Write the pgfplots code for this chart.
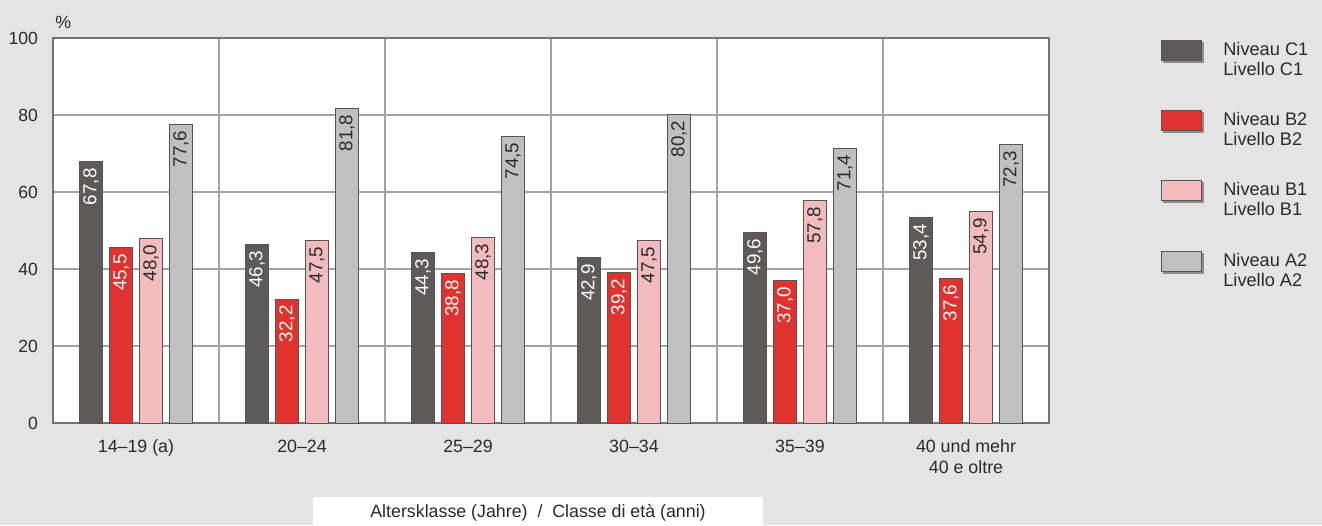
\documentclass[border=0pt]{standalone}
\usepackage{fontspec}
\setmainfont{Liberation Sans}
\usepackage{pgfplots}
\pgfplotsset{compat=1.18}
\definecolor{bg}{HTML}{E4E4E4}
\definecolor{cC}{HTML}{5E5A5A}
\definecolor{cBtwo}{HTML}{E0332F}
\definecolor{cBone}{HTML}{F2BCBF}
\definecolor{cA}{HTML}{C0C0C0}
\definecolor{gridc}{HTML}{A3A3A3}
\definecolor{txt}{HTML}{2A2A2A}
\definecolor{edge}{HTML}{555555}
\begin{document}
\begin{tikzpicture}
\fill[bg] (0,0) rectangle (661pt,262.5pt);
\path[use as bounding box] (0,0) rectangle (661pt,262.5pt);
\begin{axis}[
 at={(26.5pt,51pt)}, anchor=south west,
 scale only axis, width=498pt, height=192.5pt,
 xmin=-0.5, xmax=5.5, ymin=0, ymax=100,
 axis background/.style={fill=white},
 xtick={0,...,5},
 xticklabels={14–19 (a),20–24,25–29,30–34,35–39,{40 und mehr\\40 e oltre}},
 xticklabel style={align=center, font=\fontsize{8.9}{10.5}\selectfont, text=txt, yshift=-5pt},
 minor xtick={0.5,1.5,...,4.5},
 xminorgrids=true, ymajorgrids=true,
 grid style={gridc, line width=0.6pt},
 minor grid style={gridc, line width=0.6pt},
 ytick={0,20,...,100},
 yticklabel style={font=\fontsize{8.8}{10}\selectfont, text=txt, xshift=-4pt},
 /pgf/number format/assume math mode=true,
 major tick length=0pt, minor tick length=0pt,
 axis line style={black!55, line width=0.6pt},
 point meta=explicit symbolic,
 nodes near coords,
 nodes near coords style={rotate=90, anchor=east, inner sep=3pt, font=\fontsize{9.4}{10}\selectfont},
 mybar/.style={ybar, bar width=11.5pt, bar shift=0pt, draw=edge, line width=0.5pt,
   legend image code/.code={\fill[black!45] (1pt,-1pt) rectangle (21pt,9pt); \draw[##1, draw=edge, line width=0.5pt] (0pt,0pt) rectangle (20pt,10pt);}},
 xlabel={Altersklasse (Jahre) \ / \ Classe di età (anni)},
 xlabel style={at={(axis description cs:0.487,0)}, anchor=south, yshift=-51pt, fill=white, minimum width=225pt, minimum height=14pt, inner sep=0pt, text depth=0pt, font=\fontsize{8.9}{10}\selectfont, text=txt},
 legend style={at={(1.1124,1)}, anchor=north west, draw=none, fill=none, inner sep=0pt,
   cells={anchor=west, align=left}, font=\fontsize{9.1}{10}\selectfont, text=txt, row sep=13pt, column sep=7.5pt},
 legend cell align=left,
]
\addplot[mybar, fill=cC, nodes near coords style={text=white}] coordinates {
 (-0.2711,67.8) [67,8] (0.7289,46.3) [46,3] (1.7289,44.3) [44,3] (2.7289,42.9) [42,9] (3.7289,49.6) [49,6] (4.7289,53.4) [53,4]};
\addlegendentry{Niveau C1\\Livello C1}
\addplot[mybar, fill=cBtwo, nodes near coords style={text=white}] coordinates {
 (-0.0904,45.5) [45,5] (0.9096,32.2) [32,2] (1.9096,38.8) [38,8] (2.9096,39.2) [39,2] (3.9096,37.0) [37,0] (4.9096,37.6) [37,6]};
\addlegendentry{Niveau B2\\Livello B2}
\addplot[mybar, fill=cBone, nodes near coords style={text=txt}] coordinates {
 (0.0904,48.0) [48,0] (1.0904,47.5) [47,5] (2.0904,48.3) [48,3] (3.0904,47.5) [47,5] (4.0904,57.8) [57,8] (5.0904,54.9) [54,9]};
\addlegendentry{Niveau B1\\Livello B1}
\addplot[mybar, fill=cA, nodes near coords style={text=txt}] coordinates {
 (0.2711,77.6) [77,6] (1.2711,81.8) [81,8] (2.2711,74.5) [74,5] (3.2711,80.2) [80,2] (4.2711,71.4) [71,4] (5.2711,72.3) [72,3]};
\addlegendentry{Niveau A2\\Livello A2}
\end{axis}
\node[anchor=west, inner sep=0pt, font=\fontsize{8.9}{10}\selectfont, text=txt] at (27.5pt,251.5pt) {\%};
\end{tikzpicture}
\end{document}
